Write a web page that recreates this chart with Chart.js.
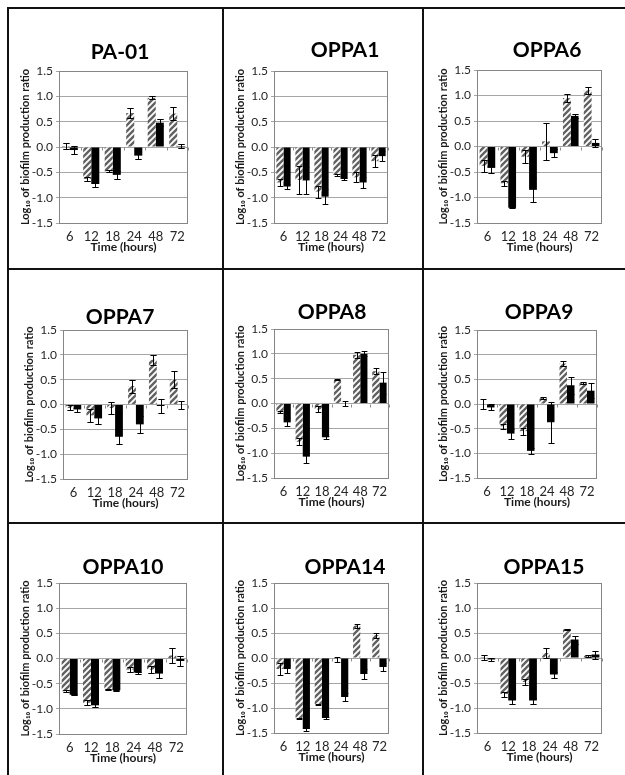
<!DOCTYPE html>
<html><head><meta charset="utf-8">
<script src="https://cdn.jsdelivr.net/npm/chart.js@4.4.0/dist/chart.umd.min.js"></script>
<style>
html,body{margin:0;padding:0;background:#fff;width:625px;height:775px;overflow:hidden;}
canvas{position:absolute;}
.line{position:absolute;background:#111;}
</style></head><body>
<script>
// ---- data ----
const categories = ['6', '12', '18', '24', '48', '72'];
const panelNames = ['PA-01', 'OPPA1', 'OPPA6', 'OPPA7', 'OPPA8', 'OPPA9', 'OPPA10', 'OPPA14', 'OPPA15'];
const yTickMin = -1.5, yTickMax = 1.5, yTickStep = 0.5;
const xAxisTitle = 'Time (hours)';
const yAxisTitle = 'Log\u2081\u2080 of biofilm production ratio';

const hatchedValues = [
  [0.02, -0.63, -0.48, 0.67, 0.97, 0.66],
  [-0.70, -0.65, -0.88, -0.55, -0.60, -0.28],
  [-0.38, -0.72, -0.20, 0.10, 0.95, 1.10],
  [-0.07, -0.22, -0.07, 0.37, 0.90, 0.50],
  [-0.18, -0.77, -0.12, 0.48, 0.98, 0.65],
  [0.00, -0.45, -0.55, 0.12, 0.82, 0.43],
  [-0.65, -0.88, -0.62, -0.22, -0.22, 0.06],
  [-0.22, -1.20, -0.92, -0.02, 0.65, 0.46],
  [0.02, -0.72, -0.48, 0.10, 0.57, 0.05]
];
const hatchedErrors = [
  [0.05, 0.04, 0.02, 0.10, 0.03, 0.12],
  [0.06, 0.28, 0.12, 0.02, 0.10, 0.12],
  [0.12, 0.05, 0.13, 0.37, 0.07, 0.07],
  [0.05, 0.13, 0.12, 0.13, 0.10, 0.17],
  [0.02, 0.07, 0.06, 0.01, 0.06, 0.06],
  [0.10, 0.05, 0.07, 0.02, 0.05, 0.02],
  [0.02, 0.05, 0.01, 0.05, 0.07, 0.15],
  [0.12, 0.01, 0.01, 0.05, 0.04, 0.05],
  [0.05, 0.05, 0.06, 0.10, 0.01, 0.02]
];
const solidValues = [
  [-0.06, -0.73, -0.55, -0.17, 0.48, 0.02],
  [-0.78, -0.66, -0.98, -0.63, -0.70, -0.18],
  [-0.42, -1.20, -0.85, -0.13, 0.60, 0.07],
  [-0.10, -0.28, -0.65, -0.40, -0.03, -0.01],
  [-0.38, -1.07, -0.68, 0.00, 1.00, 0.42],
  [-0.07, -0.60, -0.95, -0.37, 0.38, 0.27],
  [-0.72, -0.93, -0.63, -0.28, -0.30, -0.05],
  [-0.22, -1.42, -1.20, -0.78, -0.32, -0.18],
  [-0.03, -0.85, -0.85, -0.33, 0.37, 0.07]
];
const solidErrors = [
  [0.07, 0.05, 0.08, 0.07, 0.07, 0.04],
  [0.05, 0.27, 0.15, 0.02, 0.10, 0.10],
  [0.10, 0.01, 0.23, 0.08, 0.04, 0.07],
  [0.05, 0.12, 0.15, 0.17, 0.14, 0.09],
  [0.08, 0.13, 0.03, 0.06, 0.05, 0.22],
  [0.06, 0.10, 0.06, 0.42, 0.17, 0.15],
  [0.01, 0.03, 0.01, 0.02, 0.08, 0.10],
  [0.08, 0.03, 0.02, 0.08, 0.10, 0.08],
  [0.03, 0.06, 0.06, 0.06, 0.08, 0.08]
];

// ---- layout (page geometry) ----
const colX = [9, 224, 424], colW = [213, 198, 201];
const rowY = [9, 270, 524], rowH = [259, 252, 251];
const plotBoxes = [ // [left, top, right, bottom, titleX, titleY]
  [59, 71, 188, 223, 120, 52],
  [274, 71, 388, 223, 345, 50],
  [477, 70, 602, 223, 547, 50],
  [63, 330, 188, 479, 120, 317],
  [274, 329, 389, 478, 332, 312],
  [477, 330, 597, 478, 539, 312],
  [59, 583, 187, 734, 123, 567],
  [274, 583, 389, 733, 345, 567],
  [477, 583, 602, 733, 544, 567]
];
const WY = 40, HX = 31;
const FONT = 'Lato, "Open Sans", sans-serif';

// grid frame lines
[[7, 7, 2, 768], [222, 7, 2, 768], [422, 7, 2, 768],
 [7, 7, 618, 2], [7, 268, 618, 2], [7, 522, 618, 2]].forEach(([x, y, w, h]) => {
  const d = document.createElement('div');
  d.className = 'line';
  d.style.left = x + 'px'; d.style.top = y + 'px';
  d.style.width = w + 'px'; d.style.height = h + 'px';
  document.body.appendChild(d);
});

// hatch pattern
function makeHatch() {
  const s = 6;
  const t = document.createElement('canvas');
  t.width = s; t.height = s;
  const c = t.getContext('2d');
  c.fillStyle = '#ffffff';
  c.fillRect(0, 0, s, s);
  c.strokeStyle = '#626262';
  c.lineWidth = 2.4;
  c.beginPath();
  c.moveTo(-1, s + 1); c.lineTo(s + 1, -1);
  c.moveTo(-1, 1); c.lineTo(1, -1);
  c.moveTo(s - 1, s + 1); c.lineTo(s + 1, s - 1);
  c.stroke();
  return t;
}
const hatchCanvas = makeHatch();

const framePlugin = {
  id: 'frame',
  beforeDatasetsDraw(chart) {
    const {ctx, chartArea: a, scales: {x, y}} = chart;
    ctx.save();
    const y0 = Math.round(y.getPixelForValue(0)) + 0.5;
    ctx.strokeStyle = '#8c8c8c';
    ctx.lineWidth = 1;
    ctx.beginPath();
    const n = chart.data.labels.length;
    for (let k = 0; k <= n; k++) {
      const px = Math.round(a.left + k * (a.right - a.left) / n) + 0.5;
      ctx.moveTo(px, y0); ctx.lineTo(px, y0 + 3);
    }
    ctx.stroke();
    ctx.restore();
  },
  afterDatasetsDraw(chart) {
    const {ctx, chartArea: a, scales: {y}} = chart;
    ctx.save();
    ctx.strokeStyle = '#000';
    ctx.lineWidth = 1;
    chart.data.datasets.forEach((ds, di) => {
      const meta = chart.getDatasetMeta(di);
      meta.data.forEach((bar, j) => {
        const v = ds.data[j], e = ds.errors[j];
        const x = Math.round(bar.x) + 0.5;
        const yt = Math.round(y.getPixelForValue(v + e)) + 0.5;
        const yb = Math.round(y.getPixelForValue(v - e)) + 0.5;
        const hw = Math.max(2.5, bar.width * 0.4);
        ctx.beginPath();
        ctx.moveTo(x, yt); ctx.lineTo(x, yb);
        ctx.moveTo(x - hw, yt); ctx.lineTo(x + hw, yt);
        ctx.moveTo(x - hw, yb); ctx.lineTo(x + hw, yb);
        ctx.stroke();
      });
    });
    ctx.strokeStyle = '#868686';
    ctx.strokeRect(Math.round(a.left) + 0.5, Math.round(a.top) + 0.5,
                   Math.round(a.right - a.left) - 1, Math.round(a.bottom - a.top));
    ctx.restore();
  },
  afterDraw(chart, args, opts) {
    const ctx = chart.ctx;
    ctx.save();
    ctx.font = 'bold 21px ' + FONT;
    ctx.fillStyle = '#000';
    ctx.textAlign = 'center';
    ctx.textBaseline = 'middle';
    ctx.fillText(opts.text, opts.x, opts.y);
    ctx.restore();
  }
};

panelNames.forEach((name, i) => {
  const r = Math.floor(i / 3), col = i % 3;
  const cx = colX[col], cy = rowY[r], cw = colW[col], ch = rowH[r];
  const [L, T, R, B, tx, ty] = plotBoxes[i];
  const cv = document.createElement('canvas');
  cv.width = cw; cv.height = ch;
  cv.style.left = cx + 'px'; cv.style.top = cy + 'px';
  cv.style.width = cw + 'px'; cv.style.height = ch + 'px';
  document.body.appendChild(cv);
  const hatch = cv.getContext('2d').createPattern(hatchCanvas, 'repeat');
  new Chart(cv, {
    type: 'bar',
    data: {
      labels: categories,
      datasets: [
        {label: name + ' hatched', data: hatchedValues[i], errors: hatchedErrors[i],
         backgroundColor: hatch, borderWidth: 0},
        {label: name + ' solid', data: solidValues[i], errors: solidErrors[i],
         backgroundColor: '#000000', borderWidth: 0}
      ]
    },
    options: {
      responsive: false,
      animation: false,
      devicePixelRatio: 1,
      categoryPercentage: 0.75,
      barPercentage: 1.0,
      layout: {padding: {left: L - cx - WY, right: cx + cw - R, top: T - cy, bottom: cy + ch - B - HX}},
      plugins: {
        legend: {display: false},
        tooltip: {enabled: false},
        title: {display: false},
        frame: {text: name, x: tx - cx, y: ty - cy}
      },
      scales: {
        x: {
          offset: true,
          grid: {display: false, drawTicks: false},
          border: {display: false},
          ticks: {padding: 6, color: '#262626', maxRotation: 0, autoSkip: false,
                  font: {family: FONT, size: 13}},
          title: {display: true, text: xAxisTitle, color: '#1a1a1a', padding: 0,
                  font: {family: FONT, size: 12, weight: 'bold'}},
          afterFit(s) { s.height = HX; }
        },
        y: {
          min: yTickMin, max: yTickMax,
          ticks: {stepSize: yTickStep, padding: 3, color: '#262626',
                  font: {family: FONT, size: 12},
                  callback: (v) => Number(v).toFixed(1)},
          grid: {color: '#a6a6a6', tickLength: 3, drawTicks: true},
          border: {display: false},
          title: {display: true, text: yAxisTitle, color: '#1a1a1a', padding: 0,
                  font: {family: FONT, size: 11, weight: 'bold'}},
          afterFit(s) { s.width = WY; }
        }
      }
    },
    plugins: [framePlugin]
  });
});
</script>
</body></html>
